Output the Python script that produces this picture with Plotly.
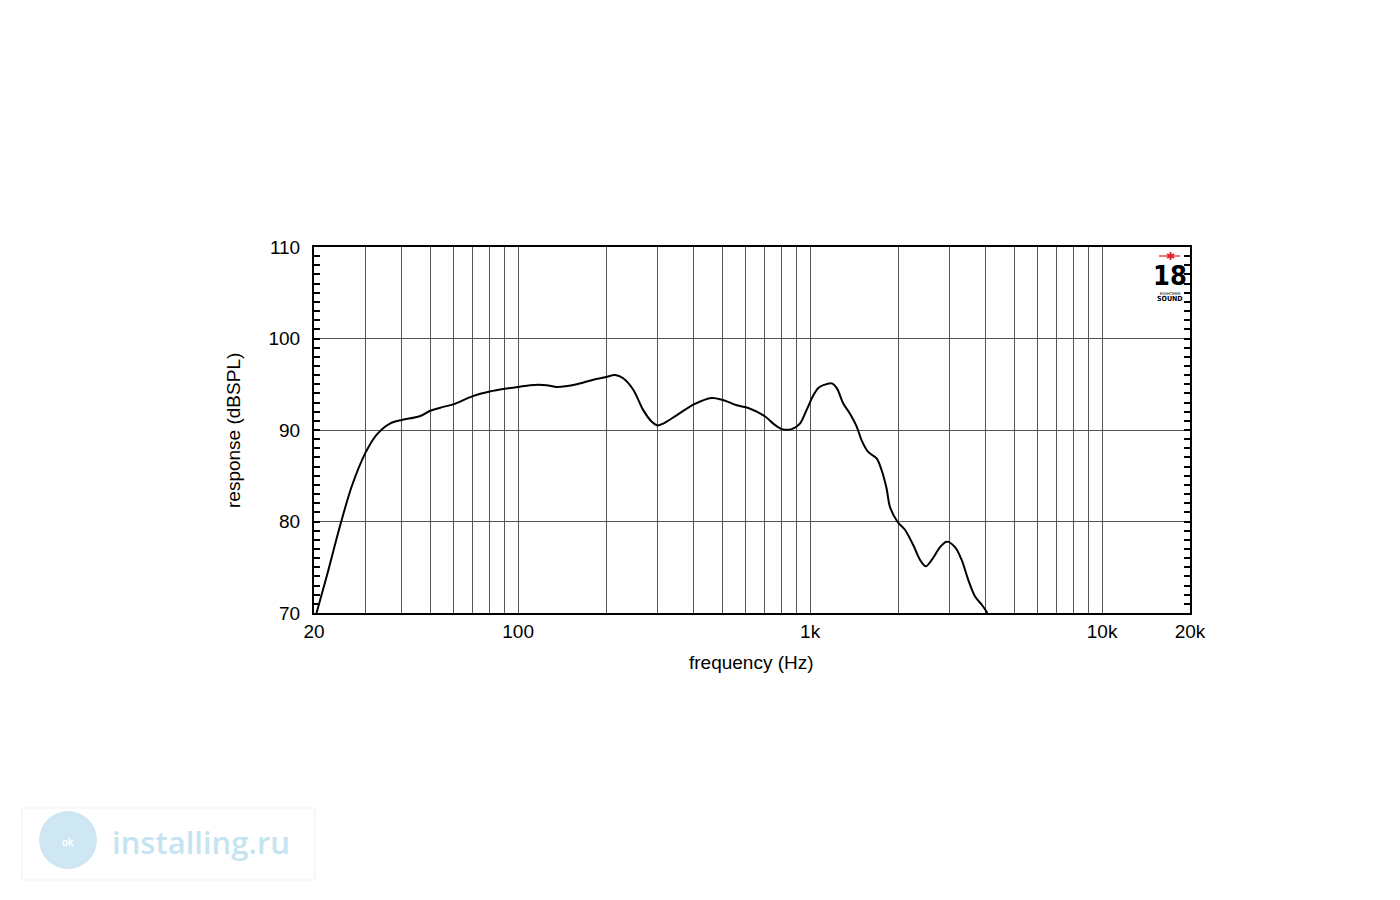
import math
import plotly.graph_objects as go

# ---- data ----
freq_hz = [20.4, 22.1, 24.5, 26.9, 30, 32.8, 36.4, 40, 46, 50, 55, 60, 70, 80, 90, 100,
           110, 125, 136, 159, 181, 200, 215, 229, 248, 268, 287, 300, 314, 349, 400,
           460, 500, 561, 614, 700, 748, 800, 865, 923, 973, 1026, 1067, 1110, 1186,
           1233, 1299, 1368, 1443, 1500, 1581, 1690, 1758, 1828, 1877, 1989, 2113,
           2257, 2380, 2489, 2610, 2786, 2937, 3136, 3304, 3483, 3673, 3872, 4049]
spl_db = [70.0, 74.0, 79.4, 83.8, 87.5, 89.5, 90.7, 91.1, 91.5, 92.1, 92.5, 92.8, 93.7,
          94.2, 94.5, 94.7, 94.9, 94.9, 94.7, 95.0, 95.5, 95.8, 96.0, 95.65, 94.4, 92.2,
          90.9, 90.5, 90.7, 91.6, 92.8, 93.5, 93.3, 92.7, 92.4, 91.5, 90.7, 90.1, 90.1,
          90.7, 92.2, 93.8, 94.6, 94.9, 95.1, 94.6, 92.9, 91.8, 90.4, 88.9, 87.6, 86.9,
          85.6, 83.6, 81.6, 80.0, 79.1, 77.4, 75.8, 75.1, 75.8, 77.2, 77.8, 77.2, 75.8,
          73.6, 71.8, 70.9, 70.0]

grid_freqs = [20, 30, 40, 50, 60, 70, 80, 90, 100, 200, 300, 400, 500, 600, 700, 800, 900,
              1000, 2000, 3000, 4000, 5000, 6000, 7000, 8000, 9000, 10000, 20000]
label_map = {20: "20", 100: "100", 1000: "1k", 10000: "10k", 20000: "20k"}
x_ticktext = [label_map.get(f, "") for f in grid_freqs]
y_range = [70, 110]
x_range_hz = [20, 20000]

fig = go.Figure()
fig.add_trace(go.Scatter(
    x=freq_hz, y=spl_db, mode="lines",
    line=dict(color="black", width=2, shape="spline", smoothing=0.9),
    hoverinfo="skip", showlegend=False))

font_main = "Liberation Sans, Arial, sans-serif"

# page body has an 8px margin; figure sized to fit inside
fig.update_layout(
    width=1384, height=884,
    margin=dict(l=306, r=202, t=239, b=279, autoexpand=False),
    paper_bgcolor="white", plot_bgcolor="white",
    font=dict(family=font_main, size=20, color="black"),
    showlegend=False,
)
fig.update_xaxes(
    type="log", range=[math.log10(x_range_hz[0]), math.log10(x_range_hz[1])],
    tickmode="array", tickvals=grid_freqs, ticktext=x_ticktext,
    showgrid=True, gridcolor="#555555", gridwidth=1.4,
    showline=True, linecolor="black", linewidth=2, mirror=True,
    ticks="", zeroline=False, tickfont=dict(size=19),
)
fig.update_yaxes(
    range=y_range, tickmode="linear", tick0=70, dtick=10,
    showgrid=True, gridcolor="#555555", gridwidth=1.4,
    showline=True, linecolor="black", linewidth=2, mirror="allticks",
    ticks="inside", ticklen=6, tickcolor="black", tickwidth=1.5,
    minor=dict(dtick=1, ticks="inside", ticklen=6, tickcolor="black", tickwidth=1.5, showgrid=False),
    zeroline=False, tickfont=dict(size=19), ticklabelstandoff=8,
)

# axis titles
fig.add_annotation(text="frequency (Hz)", xref="paper", yref="paper", x=0.4989, y=-0.1366,
                   showarrow=False, font=dict(size=19), xanchor="center", yanchor="middle")
fig.add_annotation(text="response (dBSPL)", xref="paper", yref="paper", x=-0.0925, y=0.5,
                   showarrow=False, textangle=-90, font=dict(size=19),
                   xanchor="center", yanchor="middle")

# logo (18 Eighteen Sound)
fig.add_shape(type="line", xref="paper", yref="paper", x0=0.9646, x1=0.9886, y0=0.9754, y1=0.9754,
              line=dict(color="#e0202a", width=1.2))
fig.add_annotation(text="✱", xref="paper", yref="paper", x=0.9772, y=0.9754, showarrow=False,
                   font=dict(size=11, color="#e0202a"), xanchor="center", yanchor="middle")
fig.add_annotation(text="<b>18</b>", xref="paper", yref="paper", x=0.9772, y=0.923, showarrow=False,
                   font=dict(size=27, color="black", family="DejaVu Sans Condensed, DejaVu Sans, sans-serif"),
                   xanchor="center", yanchor="middle")
fig.add_annotation(text="EIGHTEEN", xref="paper", yref="paper", x=0.9772, y=0.874, showarrow=False,
                   font=dict(size=4, color="black"), xanchor="center", yanchor="middle")
fig.add_annotation(text="<b>SOUND</b>", xref="paper", yref="paper", x=0.9772, y=0.859, showarrow=False,
                   font=dict(size=7, color="black", family="DejaVu Sans Condensed, DejaVu Sans, sans-serif"),
                   xanchor="center", yanchor="middle")

# watermark
fig.add_shape(type="rect", xref="paper", yref="paper", x0=-0.3333, x1=0.0011, y0=-0.5328, y1=-0.7295,
              line=dict(color="#efefef", width=1), fillcolor="white", layer="below")
fig.add_shape(type="circle", xref="paper", yref="paper", x0=-0.3139, x1=-0.2477, y0=-0.541, y1=-0.6995,
              line=dict(width=0), fillcolor="#cfe6f3")
fig.add_annotation(text="<b>ok</b>", xref="paper", yref="paper", x=-0.2808, y=-0.6257, showarrow=False,
                   font=dict(size=10, color="white"), xanchor="center", yanchor="middle")
fig.add_annotation(text="installing.ru", xref="paper", yref="paper", x=-0.2329, y=-0.6257,
                   showarrow=False, xanchor="left", yanchor="middle",
                   font=dict(size=31, color="#c6e3f1", family="Open Sans, sans-serif", weight=600))

fig.write_html("out.html")
